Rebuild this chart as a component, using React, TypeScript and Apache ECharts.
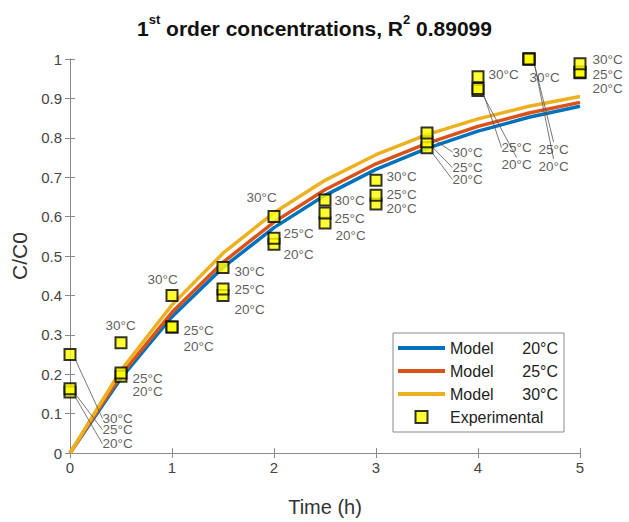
import React, { useEffect, useRef } from "react";
import * as echarts from "echarts";

const timeH = [0, 0.5, 1, 1.5, 2, 2.5, 3, 3.5, 4, 4.5, 5];

const model20 = [0, 0.19, 0.346, 0.471, 0.572, 0.654, 0.72, 0.773, 0.817, 0.852, 0.88];
const model25 = [0, 0.198, 0.357, 0.484, 0.586, 0.668, 0.734, 0.786, 0.829, 0.863, 0.89];
const model30 = [0, 0.21, 0.376, 0.507, 0.61, 0.692, 0.757, 0.808, 0.848, 0.88, 0.905];

const exp20 = [0.155, 0.195, 0.32, 0.4, 0.53, 0.584, 0.632, 0.775, 0.92, 1.0, 0.965];
const exp25 = [0.163, 0.203, 0.32, 0.416, 0.545, 0.609, 0.654, 0.79, 0.925, 1.0, 0.967];
const exp30 = [0.25, 0.28, 0.4, 0.471, 0.6, 0.642, 0.692, 0.812, 0.955, 1.0, 0.988];

const seriesNames = ["Model 20°C", "Model 25°C", "Model 30°C", "Experimental"];
const tempLabels = ["20°C", "25°C", "30°C"];
const yTicks = [0, 0.1, 0.2, 0.3, 0.4, 0.5, 0.6, 0.7, 0.8, 0.9, 1];

// label offsets (px) relative to default "right" position, and leader-line flags
const off20: [number, number][] = [[21, 52], [0, 15], [0, 20], [0, 14], [-2, 10], [-1, 13], [-1, 5], [14, 32], [12, 74], [-2, 107], [1, 16]];
const off25: [number, number][] = [[21, 41], [0, 5], [0, 4], [0, 0], [-2, -5], [-2, 5], [-1, -1], [14, 26], [12, 59], [-2, 90], [1, 2]];
const off30: [number, number][] = [[21, 64], [-27, -17], [-36, -16], [0, 4], [-39, -19], [-2, 0], [-1, -4], [14, 19], [-1, -2], [-11, 18], [1, -4]];
const lead20 = [1, 0, 0, 0, 0, 0, 0, 1, 1, 1, 0];
const lead25 = [1, 0, 0, 0, 0, 0, 0, 1, 1, 1, 0];
const lead30 = [1, 0, 0, 0, 0, 0, 0, 1, 0, 0, 0];

const COLORS = ["#0072BD", "#D95319", "#EDB120"];
const FONT = "Liberation Sans, Arial, sans-serif";

export default function App() {
  const ref = useRef<HTMLDivElement>(null);
  useEffect(() => {
    if (!ref.current) return;
    const chart = echarts.init(ref.current, undefined, { renderer: "svg" });

    const models = [model20, model25, model30];
    const exps = [exp20, exp25, exp30];
    const offs = [off20, off25, off30];
    const leads = [lead20, lead25, lead30];

    const lineSeries = models.map((m, i) => ({
      name: seriesNames[i],
      type: "line",
      data: timeH.map((t, j) => [t, m[j]]),
      symbol: "none",
      showSymbol: false,
      lineStyle: { color: COLORS[i], width: 3.5 },
      itemStyle: { color: COLORS[i] },
      z: 2 + i,
    }));

    const scatterSeries = exps.map((e, i) => ({
      name: "Experimental",
      type: "scatter",
      symbol: "rect",
      symbolSize: 11,
      itemStyle: { color: "#FFFF00", borderColor: "#000", borderWidth: 2 },
      z: 10 + i,
      data: timeH.map((t, j) => ({
        value: [t, e[j]],
        labelLine: { show: !!leads[i][j] },
      })),
      label: {
        show: true,
        position: "right",
        distance: 5,
        formatter: tempLabels[i],
        color: "#333",
        fontSize: 13.5,
        fontFamily: FONT,
      },
      labelLine: { show: false, lineStyle: { color: "#555", width: 0.8 } },
      labelLayout: (p: any) => {
        const o = offs[i][p.dataIndex];
        return { dx: o[0], dy: o[1] };
      },
    }));

    const axisLineStyle = { color: "#8a8a8a", width: 1 };
    const lineIcon = "path://M0,0H47V4H0Z";
    const squareIcon = "path://M0,0H10V10H0Z";

    chart.setOption({
      animation: false,
      backgroundColor: "#fff",
      title: {
        left: "center",
        top: 8,
        text: "{a|1}{s|st}{a| order concentrations, R}{s|2}{a| 0.89099}",
        textStyle: {
          rich: {
            a: { fontSize: 21, fontWeight: "bold", color: "#111", fontFamily: FONT, lineHeight: 26, verticalAlign: "bottom" },
            s: { fontSize: 13, fontWeight: "bold", color: "#111", fontFamily: FONT, lineHeight: 16, verticalAlign: "top" },
          },
        },
      },
      grid: { left: 70, right: 49, top: 59, bottom: 64 },
      legend: {
        left: 393,
        top: 333,
        orient: "vertical",
        symbolKeepAspect: true,
        data: [
          { name: seriesNames[0], icon: lineIcon },
          { name: seriesNames[1], icon: lineIcon },
          { name: seriesNames[2], icon: lineIcon },
          { name: seriesNames[3], icon: squareIcon },
        ],
        backgroundColor: "#fff",
        borderColor: "#8a8a8a",
        borderWidth: 1,
        borderRadius: 0,
        padding: [7, 6, 7, 5],
        itemWidth: 47,
        itemHeight: 12,
        itemGap: 7,
        textStyle: {
          fontSize: 16,
          fontFamily: FONT,
          color: "#222",
          rich: {
            m: { fontSize: 16, fontFamily: FONT, color: "#222", width: 62 },
            t: { fontSize: 16, fontFamily: FONT, color: "#222", width: 46, align: "right" },
            e: { fontSize: 16, fontFamily: FONT, color: "#222" },
          },
        },
        formatter: (name: string) => {
          if (name.startsWith("Model")) {
            const t = name.split(" ")[1];
            return `{m|Model}{t|${t}}`;
          }
          return `{e|${name}}`;
        },
      },
      xAxis: [
        {
          type: "value",
          min: 0,
          max: 5,
          interval: 1,
          position: "bottom",
          name: "Time (h)",
          nameLocation: "middle",
          nameGap: 44,
          nameTextStyle: { fontSize: 20, fontFamily: FONT, color: "#333" },
          axisLine: { show: true, lineStyle: axisLineStyle },
          axisTick: { show: true, inside: true, length: 5, lineStyle: axisLineStyle },
          axisLabel: { fontSize: 15, fontFamily: FONT, color: "#444", margin: 7 },
          splitLine: { show: false },
        },
        {
          type: "value",
          min: 0,
          max: 5,
          interval: 1,
          position: "top",
          axisLine: { show: true, lineStyle: axisLineStyle },
          axisTick: { show: true, inside: true, length: 5, lineStyle: axisLineStyle },
          axisLabel: { show: false },
          splitLine: { show: false },
        },
      ],
      yAxis: [
        {
          type: "value",
          min: 0,
          max: 1,
          interval: 0.1,
          position: "left",
          name: "C/C0",
          nameLocation: "middle",
          nameGap: 31,
          nameTextStyle: { fontSize: 21, fontFamily: FONT, color: "#333" },
          axisLine: { show: true, lineStyle: axisLineStyle },
          axisTick: { show: true, inside: true, length: 5, lineStyle: axisLineStyle },
          axisLabel: {
            fontSize: 15,
            fontFamily: FONT,
            color: "#444",
            margin: 8,
            formatter: (v: number) => {
              const m = yTicks.find((t) => Math.abs(t - v) < 1e-6);
              return m === undefined ? "" : String(m);
            },
          },
          splitLine: { show: false },
        },
        {
          type: "value",
          min: 0,
          max: 1,
          interval: 0.1,
          position: "right",
          axisLine: { show: true, lineStyle: axisLineStyle },
          axisTick: { show: true, inside: true, length: 5, lineStyle: axisLineStyle },
          axisLabel: { show: false },
          splitLine: { show: false },
        },
      ],
      series: [...lineSeries, ...scatterSeries],
    });

    return () => chart.dispose();
  }, []);

  return <div ref={ref} style={{ position: "fixed", left: 0, top: 0, width: 629, height: 522 }} />;
}
